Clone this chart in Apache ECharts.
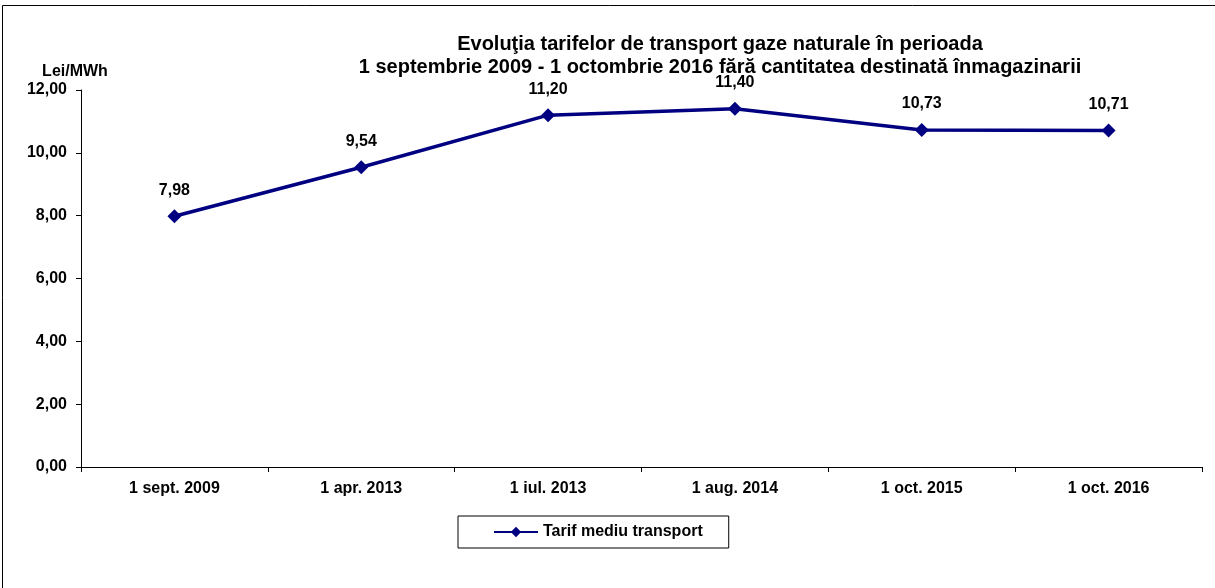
<!DOCTYPE html>
<html>
<head>
<meta charset="utf-8">
<script src="https://cdn.jsdelivr.net/npm/echarts@6/dist/echarts.min.js"></script>
<style>
  html, body { margin: 0; padding: 0; background: #fff; }
  #chart { width: 1215px; height: 588px; }
</style>
</head>
<body>
<div id="chart"></div>
<script>
  // ============ 数据 ============
  const categories = ['1 sept. 2009', '1 apr. 2013', '1 iul. 2013', '1 aug. 2014', '1 oct. 2015', '1 oct. 2016']
  const tarifValues = [7.98, 9.54, 11.20, 11.40, 10.73, 10.71]
  const seriesName = 'Tarif mediu transport'
  const titleLines = [
    'Evoluţia tarifelor de transport gaze naturale în perioada',
    '1 septembrie 2009 - 1 octombrie 2016 fără cantitatea destinată înmagazinarii'
  ]

  const FONT = 'Arial, "Liberation Sans", sans-serif'
  const NAVY = '#000080'

  // 数字格式：逗号作小数点
  const fmt = v => Number(v).toFixed(2).replace('.', ',')

  const chart = echarts.init(document.getElementById('chart'))

  chart.setOption({
    animation: false,
    backgroundColor: '#fff',
    title: {
      text: titleLines.join('\n'),
      left: 715,
      top: 28,
      textAlign: 'center',
      textStyle: { fontFamily: FONT, fontSize: 20, fontWeight: 'bold', color: '#000', lineHeight: 23 }
    },
    graphic: [
      {
        type: 'rect',
        shape: { x: 2.5, y: 5.5, width: 1230, height: 600 },
        style: { fill: 'none', stroke: '#000', lineWidth: 1 },
        silent: true
      }
    ],
    legend: {
      data: [seriesName],
      left: 458,
      top: 516,
      padding: [8, 26, 8, 35],
      borderColor: '#000',
      borderWidth: 1,
      itemWidth: 44,
      itemHeight: 13,
      itemGap: 5,
      textStyle: { fontFamily: FONT, fontSize: 16, fontWeight: 'bold', color: '#000' }
    },
    grid: {
      left: 81,
      right: 13,
      top: 90,
      bottom: 121,
      containLabel: false
    },
    xAxis: {
      type: 'category',
      data: categories,
      boundaryGap: true,
      axisLine: { lineStyle: { color: '#000', width: 1 } },
      axisTick: { show: true, alignWithLabel: false, length: 5, lineStyle: { color: '#000' } },
      axisLabel: { fontFamily: FONT, fontSize: 16, fontWeight: 'bold', color: '#000', margin: 14 }
    },
    yAxis: {
      type: 'value',
      min: 0,
      max: 12,
      interval: 2,
      name: 'Lei/MWh',
      nameLocation: 'end',
      nameGap: 10,
      nameTextStyle: { fontFamily: FONT, fontSize: 16, fontWeight: 'bold', color: '#000', align: 'center', padding: [0, 12, 0, 0] },
      axisLine: { show: true, lineStyle: { color: '#000', width: 1 } },
      axisTick: { show: true, length: 5, lineStyle: { color: '#000' } },
      splitLine: { show: false },
      axisLabel: {
        fontFamily: FONT, fontSize: 16, fontWeight: 'bold', color: '#000', margin: 14,
        formatter: v => fmt(v)
      }
    },
    series: [
      {
        name: seriesName,
        type: 'line',
        data: tarifValues,
        symbol: 'diamond',
        symbolSize: 14,
        lineStyle: { color: NAVY, width: 3.5 },
        itemStyle: { color: NAVY },
        label: {
          show: true,
          position: 'top',
          distance: 11,
          fontFamily: FONT,
          fontSize: 16,
          fontWeight: 'bold',
          color: '#000',
          formatter: p => fmt(p.value)
        }
      }
    ]
  })
</script>
</body>
</html>
